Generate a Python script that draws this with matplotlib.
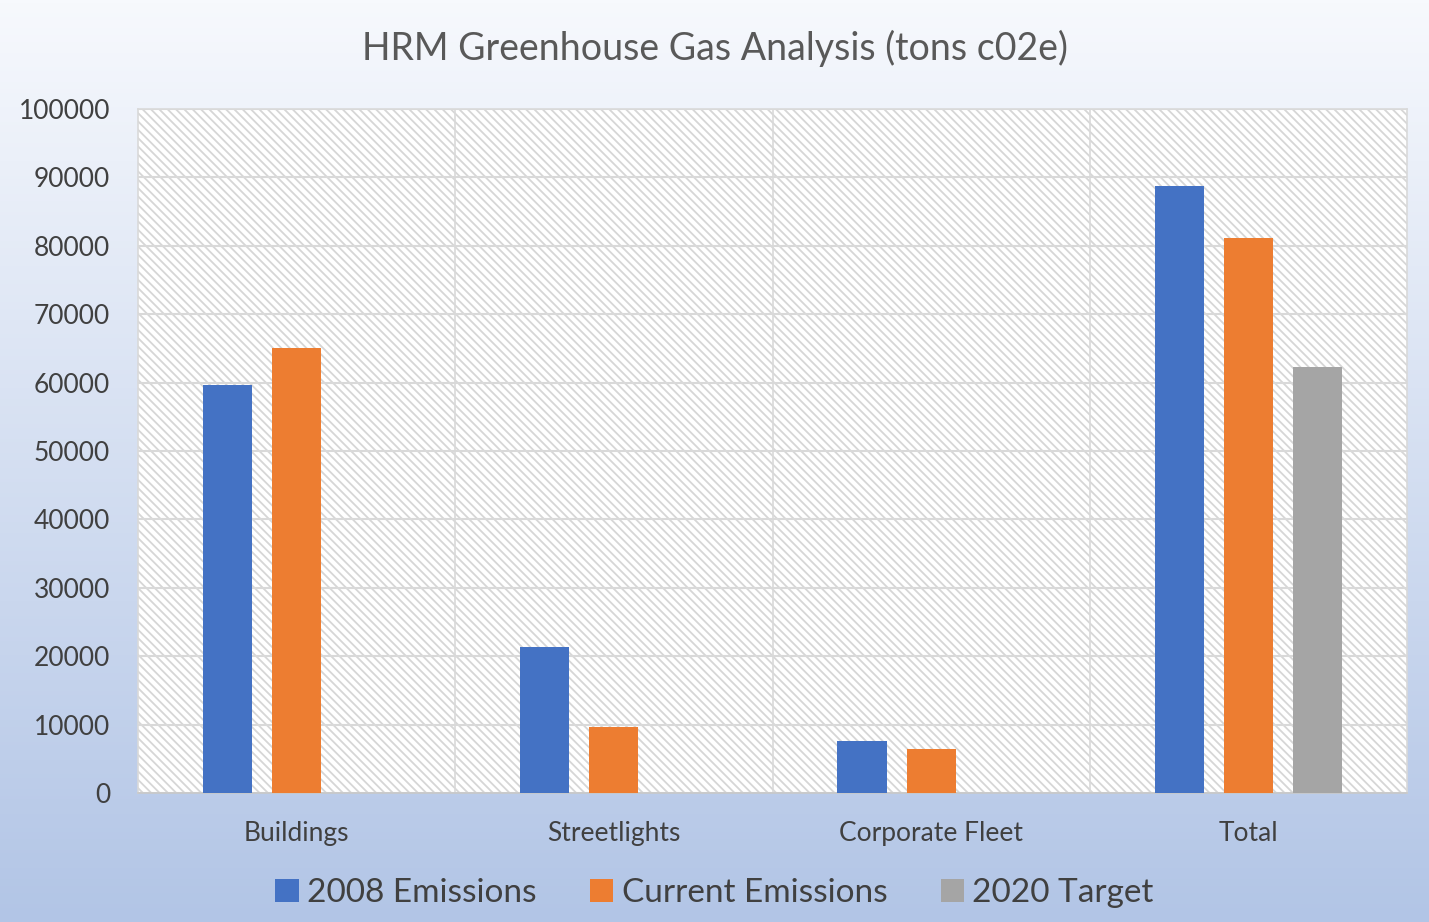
import numpy as np
import matplotlib.pyplot as plt
from matplotlib.patches import Rectangle

# Data
categories = ['Buildings', 'Streetlights', 'Corporate Fleet', 'Total']
emissions_2008 = [59600, 21300, 7600, 88700]
emissions_current = [65000, 9600, 6500, 81100]
target_2020 = [np.nan, np.nan, np.nan, 62300]
series_names = ['2008 Emissions', 'Current Emissions', '2020 Target']
colors = ['#4472c4', '#ed7d31', '#a5a5a5']

plt.rcParams['font.family'] = ['Lato', 'DejaVu Sans']
plt.rcParams['hatch.linewidth'] = 1.3
plt.rcParams['hatch.color'] = '#d6d6d6'

fig = plt.figure(figsize=(14.29, 9.22), dpi=100)

# Gradient background for the whole chart
bg = fig.add_axes([0, 0, 1, 1], zorder=-10)
grad = np.linspace(0, 1, 256).reshape(-1, 1)
top = np.array([247, 249, 253]) / 255
bottom = np.array([178, 197, 230]) / 255
img = top + (bottom - top) * grad[..., None]
bg.imshow(img, aspect='auto', extent=[0, 1, 0, 1])
bg.axis('off')

ax = fig.add_axes([138 / 1429, 1 - 793 / 922, (1407 - 138) / 1429, (793 - 109) / 922])
ax.set_facecolor('white')
ax.add_patch(Rectangle((0, 0), 1, 1, transform=ax.transAxes, facecolor='white',
                       edgecolor='#d6d6d6', hatch='\\\\\\\\', linewidth=0, zorder=0))

x = np.arange(len(categories))
offset = 0.218
width = 0.155
for i, vals in enumerate([emissions_2008, emissions_current, target_2020]):
    ax.bar(x + (i - 1) * offset, vals, width, color=colors[i], label=series_names[i], zorder=3)

ax.set_xlim(-0.5, len(categories) - 0.5)
ax.set_ylim(0, 100000)
ax.set_yticks(np.arange(0, 100001, 10000))
ax.set_xticks(x)
ax.set_xticklabels(categories)

ax.yaxis.grid(True, color='#d9d9d9', linewidth=1.5, zorder=1)
for b in np.arange(0.5, len(categories) - 0.5, 1):
    ax.axvline(b, color='#d9d9d9', linewidth=1.2, zorder=1)
ax.set_axisbelow(True)

for s in ax.spines.values():
    s.set_color('#d9d9d9')
    s.set_linewidth(1.2)
ax.spines['bottom'].set_color('#c8c8c8')

ax.tick_params(axis='both', length=0, labelsize=19, labelcolor='#404040')
ax.tick_params(axis='x', pad=20)
ax.tick_params(axis='y', pad=20)

fig.text(0.5, 1 - 48 / 922, 'HRM Greenhouse Gas Analysis (tons c02e)', ha='center', va='center',
         fontsize=27, color='#595959')

fig.legend(loc='center', bbox_to_anchor=(0.5, 1 - 893 / 922), ncol=3, frameon=False,
           fontsize=24, labelcolor='#404040', handlelength=0.7, handleheight=0.7,
           handletextpad=0.25, columnspacing=1.6)

fig.savefig('out.png', dpi=100)
